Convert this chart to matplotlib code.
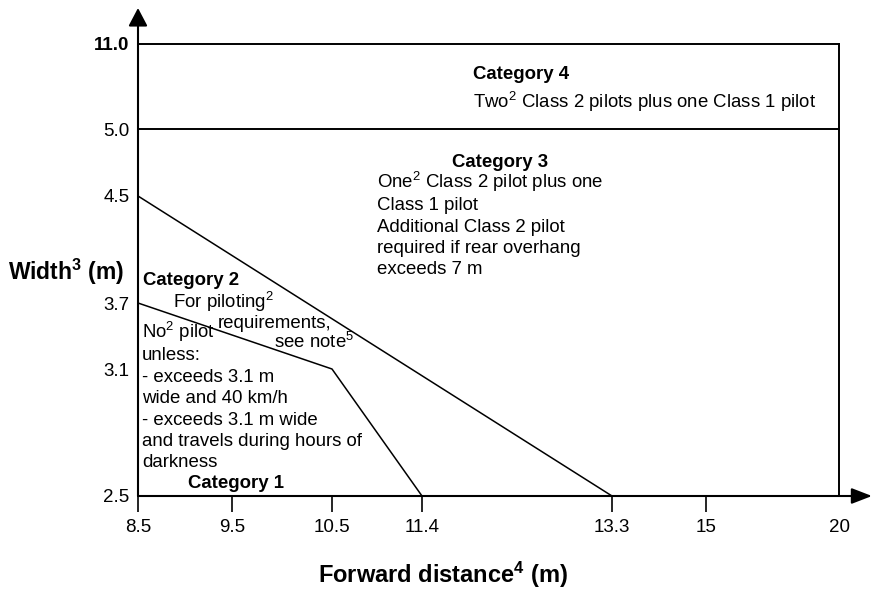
import numpy as np
import matplotlib
matplotlib.use('Agg')
import matplotlib.pyplot as plt

plt.rcParams['font.family'] = ['Liberation Sans', 'DejaVu Sans']
plt.rcParams['mathtext.fontset'] = 'custom'
plt.rcParams['mathtext.rm'] = 'Liberation Sans'
plt.rcParams['mathtext.it'] = 'Liberation Sans:italic'
plt.rcParams['mathtext.bf'] = 'Liberation Sans:bold'

# ---- data ----
x_ticks = [8.5, 9.5, 10.5, 11.4, 13.3, 15, 20]
x_tick_labels = ['8.5', '9.5', '10.5', '11.4', '13.3', '15', '20']
y_ticks = [2.5, 3.1, 3.7, 4.5, 5.0, 11.0]
y_tick_labels = ['2.5', '3.1', '3.7', '4.5', '5.0', '11.0']

cat2_upper_x = [8.5, 13.3]
cat2_upper_y = [4.5, 2.5]
cat1_upper_x = [8.5, 10.5, 11.4]
cat1_upper_y = [3.7, 3.1, 2.5]
cat3_upper_y = 5.0
cat4_upper_y = 11.0
x_min, x_max = 8.5, 20
y_min = 2.5

# ---- non-uniform axis layout (styling: screen fraction of each tick) ----
x_frac = np.array([0, 94, 194, 284, 474, 568, 701]) / 701
y_frac = np.array([0, 127, 193, 300, 367, 452]) / 452

def fx(v):
    return np.interp(v, x_ticks, x_frac)
def ifx(f):
    return np.interp(f, x_frac, x_ticks)
def fy(v):
    return np.interp(v, y_ticks, y_frac)
def ify(f):
    return np.interp(f, y_frac, y_ticks)

W, H = 877, 590
fig = plt.figure(figsize=(W / 100, H / 100), dpi=100)
ax = fig.add_axes([138 / W, (H - 496) / H, 701 / W, 452 / H])
ax.set_xscale('function', functions=(fx, ifx))
ax.set_yscale('function', functions=(fy, ify))
ax.set_xlim(x_min, x_max)
ax.set_ylim(y_min, cat4_upper_y)

for s in ax.spines.values():
    s.set_visible(False)

lw_ax = 1.5
# horizontal boundaries and right edge
ax.plot([x_min, x_max], [cat4_upper_y, cat4_upper_y], color='black', lw=1.4, clip_on=False)
ax.plot([x_min, x_max], [cat3_upper_y, cat3_upper_y], color='black', lw=1.4, clip_on=False)
ax.plot([x_max, x_max], [y_min, cat4_upper_y], color='black', lw=1.4, clip_on=False)
# category lines
ax.plot(cat2_upper_x, cat2_upper_y, color='black', lw=1.1, clip_on=False)
ax.plot(cat1_upper_x, cat1_upper_y, color='black', lw=1.1, clip_on=False)

# axes arrows
ax.annotate('', xy=(1.047, 0), xytext=(0, 0), xycoords='axes fraction',
            arrowprops=dict(arrowstyle='-|>,head_length=0.62,head_width=0.24',
                            mutation_scale=20, lw=lw_ax, color='black',
                            shrinkA=0, shrinkB=0), annotation_clip=False)
ax.annotate('', xy=(0, 1.0796), xytext=(0, 0), xycoords='axes fraction',
            arrowprops=dict(arrowstyle='-|>,head_length=0.55,head_width=0.29',
                            mutation_scale=20, lw=lw_ax, color='black',
                            shrinkA=0, shrinkB=0), annotation_clip=False)

ax.set_xticks(x_ticks)
ax.set_xticklabels(x_tick_labels)
ax.set_yticks(y_ticks)
ax.set_yticklabels(y_tick_labels)
ax.minorticks_off()
ax.tick_params(axis='x', direction='out', length=11.5, width=1.2, pad=5, labelsize=13.5)
ax.tick_params(axis='y', length=0, pad=6, labelsize=13.5)
ax.xaxis.get_major_ticks()[-1].tick1line.set_visible(False)
ax.get_yticklabels()[-1].set_fontweight('bold')

fig.text(443 / W, 1 - 575 / H, r'Forward distance$^\mathbf{4}$ (m)', fontsize=17,
         fontweight='bold', ha='center', va='center')
fig.text(8 / W, 1 - 272 / H, r'Width$^\mathbf{3}$ (m)', fontsize=16.5, fontweight='bold',
         ha='left', va='center')

fs = 13.4

def t(px, py, s, **kw):
    fig.text(px / W, 1 - py / H, s, fontsize=fs, ha='left', va='baseline', **kw)

t(473, 79, 'Category 4', fontweight='bold')
t(473, 108, r'Two$^2$ Class 2 pilots plus one Class 1 pilot')
t(452, 167, 'Category 3', fontweight='bold')
t(377, 188, r'One$^2$ Class 2 pilot plus one')
t(377, 210, 'Class 1 pilot')
t(377, 232, 'Additional Class 2 pilot')
t(377, 253, 'required if rear overhang')
t(377, 274, 'exceeds 7 m')
t(143, 285, 'Category 2', fontweight='bold')
t(173, 308, r'For piloting$^2$')
t(218, 328, 'requirements,')
t(274, 348, r'see note$^5$')
t(142, 338, r'No$^2$ pilot')
t(142, 360, 'unless:')
t(142, 382, '- exceeds 3.1 m')
t(142, 403, 'wide and 40 km/h')
t(142, 425, '- exceeds 3.1 m wide')
t(142, 446, 'and travels during hours of')
t(142, 467, 'darkness')
t(188, 488, 'Category 1', fontweight='bold')

fig.savefig('out.png', dpi=100)
